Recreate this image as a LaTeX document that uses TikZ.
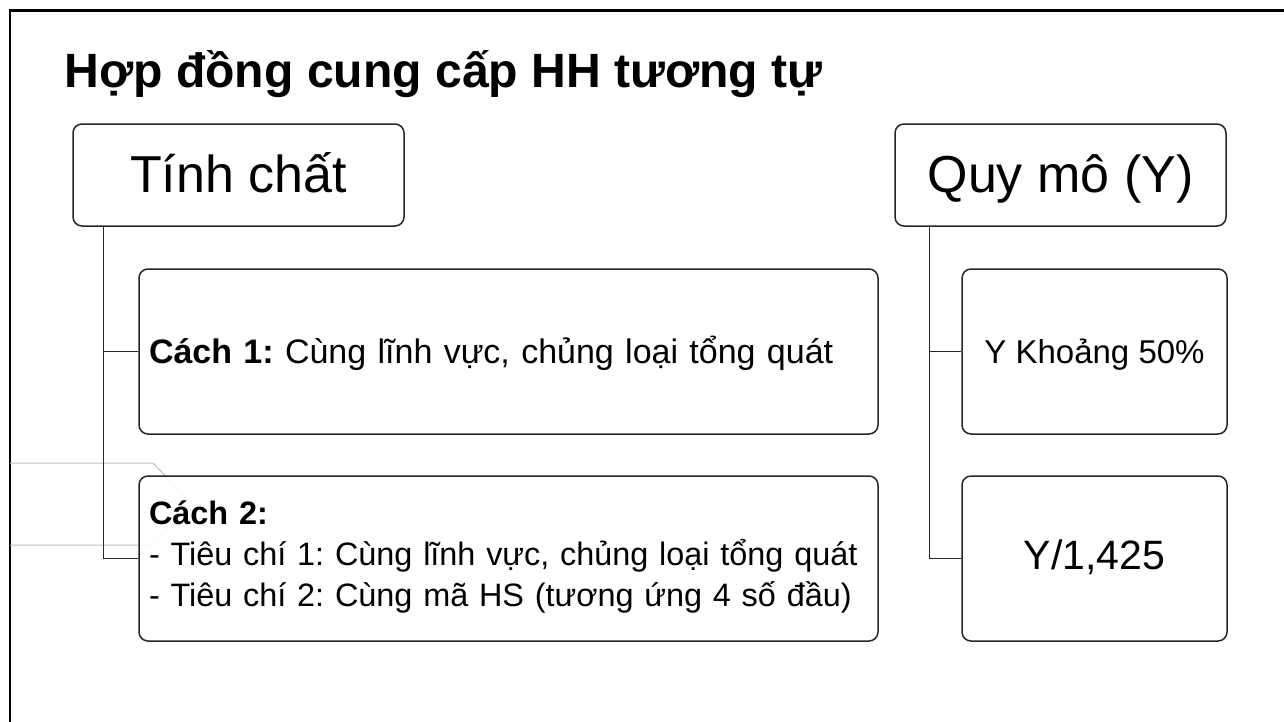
\documentclass[tikz,border=0pt]{standalone}
\usepackage{fontspec}
\setmainfont{Liberation Sans}
\begin{document}
\frenchspacing
\begin{tikzpicture}[x=1pt,y=-1pt]
\tikzset{
  box/.style={draw=black!85, line width=1.5pt, rounded corners=9pt, fill=white, inner sep=0pt},
  conn/.style={draw=black!85, line width=1.3pt},
  big/.style={font=\fontsize{52}{60}\selectfont, text height=40pt, text depth=6pt},
}
\useasboundingbox (0,0) rectangle (1284,721);
\clip (0,0) rectangle (1284,721);
\fill[white] (0,0) rectangle (1284,721);
\draw[line width=2.5pt] (10,10.5) rectangle (1400,800);

\node[anchor=base west, font=\bfseries\fontsize{48.1}{58}\selectfont] (title) at (61,87) {Hợp đồng cung cấp HH tương tự};

\node[box, big, minimum width=331pt, minimum height=102pt] (tc) at (238.5,175) {Tính chất};
\node[box, big, minimum width=331pt, minimum height=102pt] (qm) at (1060.5,175) {Quy mô (Y)};

\draw[gray!50, line width=1pt] (10,463) -- (153,463) -- (192,504) -- (153,545) -- (10,545);

\node[box, minimum width=739pt, minimum height=165pt, text width=719pt, align=left, font=\fontsize{34}{41}\selectfont, text height=30pt, text depth=6pt] (c1) at (508.5,351.5) {\mbox{\textbf{Cách 1:} Cùng lĩnh vực, chủng loại tổng quát}};
\node[box, fill opacity=0.9, text opacity=1, minimum width=739pt, minimum height=165pt, text width=719pt, align=left, font=\fontsize{32.4}{41}\selectfont] (c2) at (508.5,558.5) {\mbox{\rule{0pt}{30pt}\textbf{Cách 2:}}\\\mbox{- Tiêu chí 1: Cùng lĩnh vực, chủng loại tổng quát}\\\mbox{- Tiêu chí 2: Cùng mã HS (tương ứng 4 số đầu)\rule[-17pt]{0pt}{17pt}}};

\node[box, minimum width=265pt, minimum height=165pt, font=\fontsize{33}{40}\selectfont, text height=30pt, text depth=6pt] (y1) at (1094.5,351.5) {Y Khoảng 50\%};
\node[box, minimum width=265pt, minimum height=165pt, font=\fontsize{41}{48}\selectfont, text height=30pt, text depth=9pt] (y2) at (1094.5,558.5) {Y/1,425};

\draw[conn] ([xshift=31pt]tc.south west) |- (c1.west);
\draw[conn] ([xshift=31pt]tc.south west) |- (c2.west);
\draw[conn] ([xshift=35pt]qm.south west) |- (y1.west);
\draw[conn] ([xshift=35pt]qm.south west) |- (y2.west);
\end{tikzpicture}
\end{document}
